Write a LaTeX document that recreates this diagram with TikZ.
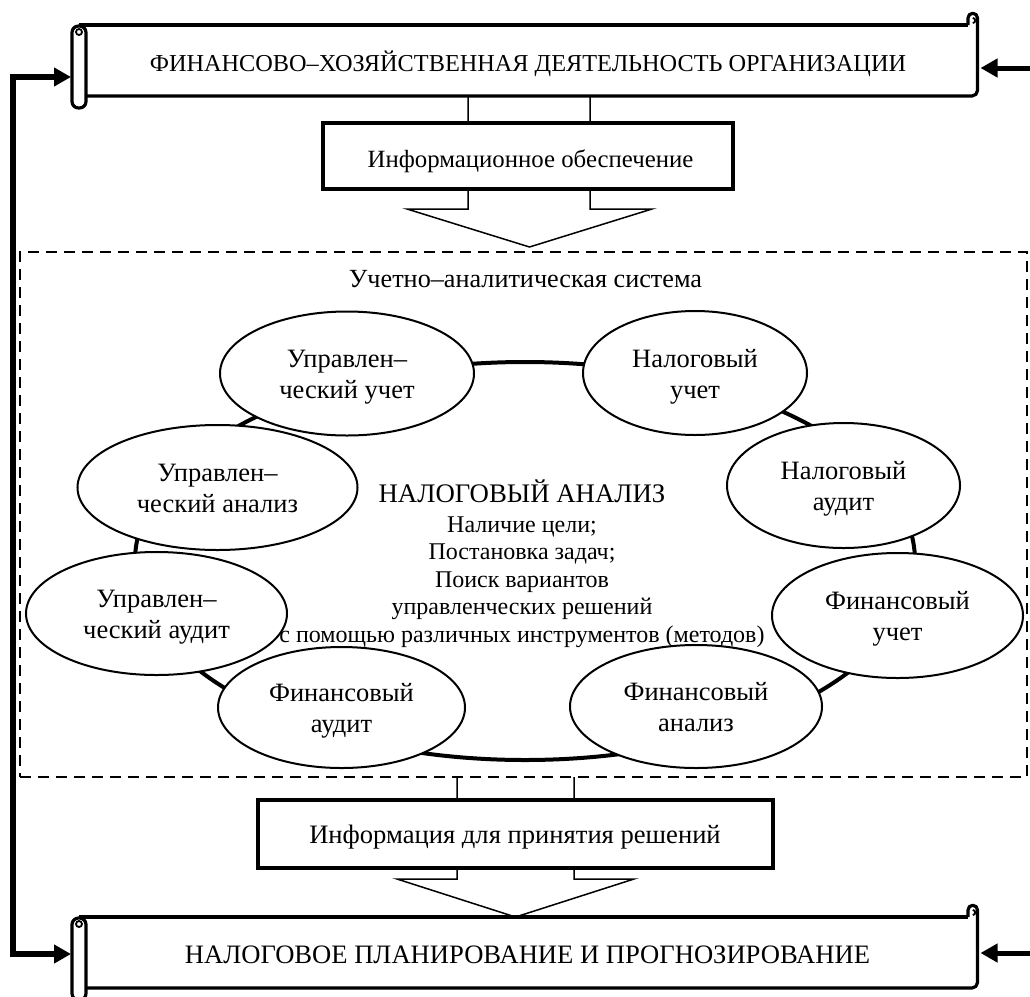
\documentclass[tikz,border=0pt]{standalone}
\usepackage{fontspec}
\setmainfont{Liberation Serif}
\usetikzlibrary{shapes.geometric,arrows.meta}
\newcommand{\eltop}{\rule{0pt}{26pt}}
\newcommand{\elbot}{\rule[-7pt]{0pt}{7pt}}
\tikzset{
  bline/.style={line width=3.2pt, line join=round},
  infobox/.style={draw, line width=3.5pt, fill=white, inner sep=0pt},
  ell/.style={ellipse, draw, line width=2pt, fill=white, inner sep=0pt, align=center, font=\fontsize{26.5}{31}\selectfont},
  ringline/.style={line width=4pt},
  blockarrow/.style={draw, line width=1.5pt, fill=white, line join=miter},
  dashframe/.style={draw, line width=2pt, dash pattern=on 11pt off 7pt},
  rail/.style={line width=5.5pt, line join=miter},
  inarrow/.style={line width=5pt},
}
\newcommand{\scrollshape}[1]{%
\begin{scope}[shift={(0,#1)}]
 \fill[white] (79,25) rectangle (977,96);
 \draw[bline] (968,25) -- (79,25);
 \draw[bline] (86,96) -- (972,96) arc[start angle=-90,end angle=0,radius=5.5pt] -- (977.5,18) arc[start angle=0,end angle=180,radius=4.75pt] -- (968,25);
 \draw[line width=1.8pt] (972.75,23) arc[start angle=-90,end angle=90,radius=2.5pt];
 \draw[bline, fill=white, rounded corners=6.5pt] (72,26) rectangle (86,108);
 \draw[line width=1.8pt] (79,32) circle[radius=3pt];
\end{scope}}
\begin{document}
\begin{tikzpicture}[x=1pt,y=-1pt, >={Triangle[length=17pt,width=18pt]}]
\useasboundingbox (0,0) rectangle (1030,996);
\begin{scope}
\clip (0,0) rectangle (1030,996);
% block arrows
\draw[blockarrow] (468,96) -- (468,209) -- (407,209) -- (529.5,247) -- (652,209) -- (590,209) -- (590,96);
\draw[blockarrow] (457,777) -- (457,879) -- (397,879) -- (515.5,917) -- (634,879) -- (574,879) -- (574,777);
% frame
\node[dashframe, minimum width=1007pt, minimum height=525pt, inner sep=0pt] (uas) at (523.5,514.5) {};
\node[font=\fontsize{26.2}{31}\selectfont, anchor=base] (uast) at (525.5,287) {Учетно–аналитическая система};
% ring
\draw[ringline] (525,561) ellipse [x radius=390pt, y radius=199pt];
% ellipses
\node[ell, minimum width=254pt, minimum height=124pt] (e1) at (347,373.5) {\eltop Управлен–\\ческий учет\elbot};
\node[ell, minimum width=280pt, minimum height=125pt] (e2) at (217.5,487.5) {\eltop Управлен–\\ческий анализ\elbot};
\node[ell, minimum width=261pt, minimum height=123pt] (e3) at (156.5,613.5) {\eltop Управлен–\\ческий аудит\elbot};
\node[ell, minimum width=247pt, minimum height=121pt] (e4) at (341.5,707.5) {\eltop Финансовый\\аудит\elbot};
\node[ell, minimum width=252pt, minimum height=123pt] (e5) at (696,706.5) {\eltop Финансовый\\анализ\elbot};
\node[ell, minimum width=251pt, minimum height=125pt] (e6) at (897.5,615.5) {\eltop Финансовый\\учет\elbot};
\node[ell, minimum width=233pt, minimum height=125pt] (e7) at (843.5,485.5) {\eltop Налоговый\\аудит\elbot};
\node[ell, minimum width=224pt, minimum height=124pt] (e8) at (695,373) {\eltop Налоговый\\учет\elbot};
% central text
\node[align=center, font=\fontsize{24}{27.5}\selectfont, inner sep=0pt] (nal) at (522,563.5) {\rule{0pt}{24pt}{\fontsize{26.8}{27.5}\selectfont НАЛОГОВЫЙ АНАЛИЗ}\\[2.5pt]Наличие цели;\\Постановка задач;\\Поиск вариантов\\управленческих решений\\с помощью различных инструментов (методов)\rule[-7pt]{0pt}{7pt}};
% boxes
\node[infobox, minimum width=410pt, minimum height=66pt] (info1) at (528,156) {};
\node[font=\fontsize{24.8}{29}\selectfont, anchor=base] (info1t) at (530.5,167) {Информационное обеспечение};
\node[infobox, minimum width=515pt, minimum height=68pt] (info2) at (515.5,834) {};
\node[font=\fontsize{26.6}{31}\selectfont, anchor=base] (info2t) at (515,843) {Информация для принятия решений};
% banners
\scrollshape{0}
\scrollshape{892}
\node[font=\fontsize{24.3}{29}\selectfont, anchor=base] (fin) at (528,71) {ФИНАНСОВО–ХОЗЯЙСТВЕННАЯ ДЕЯТЕЛЬНОСТЬ ОРГАНИЗАЦИИ};
\node[font=\fontsize{26.6}{31}\selectfont, anchor=base] (plan) at (527.5,963) {НАЛОГОВОЕ ПЛАНИРОВАНИЕ И ПРОГНОЗИРОВАНИЕ};
% connectors
\coordinate (inTop) at (71,77);
\coordinate (inBot) at (71,954);
\coordinate (railT) at (13,77);
\coordinate (railB) at (13,954);
\draw[rail,<->] (inTop) -- (railT) -- (railB) -- (inBot);
\coordinate (rT) at (980.5,68);
\coordinate (rTs) at (1032,68);
\coordinate (rB) at (980.5,953);
\coordinate (rBs) at (1032,953);
\draw[inarrow,->] (rTs) -- (rT);
\draw[inarrow,->] (rBs) -- (rB);
\end{scope}
\end{tikzpicture}
\end{document}
